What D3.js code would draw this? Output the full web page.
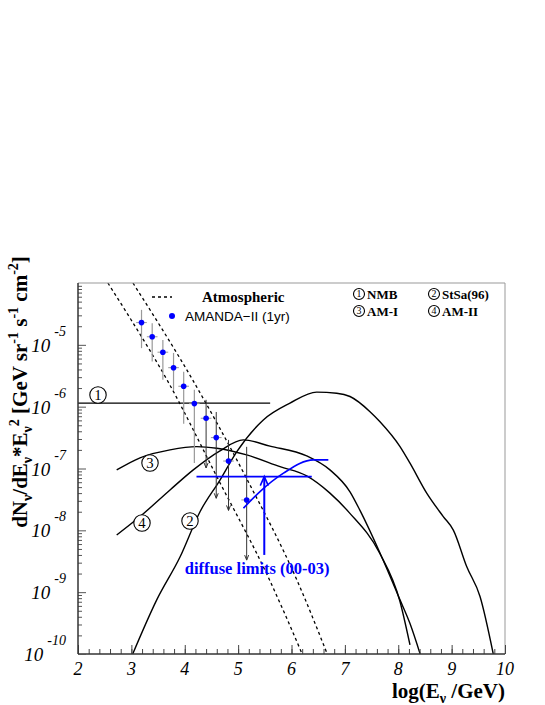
<!DOCTYPE html>
<html><head><meta charset="utf-8">
<script src="https://cdn.jsdelivr.net/npm/d3@7"></script>
<style>body{margin:0;background:#fff}svg{display:block}</style>
</head><body>
<script>
// ---- data ----
const xTicks = [2,3,4,5,6,7,8,9,10];
const yExps = [-10,-9,-8,-7,-6,-5];
// Atmospheric band (dashed)
const atmLoE = [2.56,2.97,3.67,4.63,5.56,6.20];
const atmLoF = [1e-4,2.75e-5,2.69e-6,6.6e-8,1.78e-9,1e-10];
const atmHiE = [3.03,4.15,5.17,6.10,6.67];
const atmHiF = [1e-4,2.69e-6,6.6e-8,1.58e-9,1e-10];
// AMANDA-II (1yr)
const amE = [3.19,3.39,3.59,3.79,3.98,4.18,4.40,4.59,4.82,5.16];
const amF = [2.29e-5,1.35e-5,7.6e-6,4.27e-6,2.14e-6,1.12e-6,6.5e-7,3.16e-7,1.32e-7,3.1e-8];
const amHi = [3.68e-5,2.24e-5,1.2e-5,7.4e-6,3.66e-6,1.87e-6,1.29e-6,8.2e-7,2.9e-7,2.24e-7];
const amLo = [8.85e-6,5.37e-6,2.72e-6,1.87e-6,5.3e-7,1.23e-7,1.02e-7,3.3e-8,2.1e-8,3.3e-9];
const amLimit = [false,false,false,false,false,false,true,true,true,true];
// (1) NMB
const nmbE = [2,5.6];
const nmbF = [1.14e-6,1.14e-6];
// (2) StSa(96)
const stsaE = [3.025,3.475,3.911,4.286,4.66,4.973,5.472,5.972,6.472,6.847,7.096,7.471,7.658,8.033,8.22,8.533,8.844,9.032,9.282,9.532,9.78];
const stsaF = [1.0e-10,7.5e-10,3.7e-9,2.0e-8,6.5e-8,1.86e-7,6.1e-7,1.14e-6,1.72e-6,1.65e-6,1.46e-6,8.3e-7,5.7e-7,2.26e-7,1.22e-7,4.0e-8,1.67e-8,1.01e-8,2.6e-9,8.5e-10,1.0e-10];
// (3) AM-I
const am1E = [2.725,3.162,3.724,4.224,4.599,5.161,5.785,6.285,6.72,7.09,7.65,8.03,8.22];
const am1F = [9.48e-8,1.49e-7,2.0e-7,2.26e-7,2.13e-7,1.66e-7,1.07e-7,7.6e-8,4.0e-8,1.9e-8,4.3e-9,7.2e-10,1.4e-10];
// (4) AM-II
const am2E = [2.725,3.162,3.724,4.160,4.660,5.097,5.597,6.285,6.72,7.096,7.283,7.658,8.033,8.22,8.41];
const am2F = [8.4e-9,1.67e-8,4.5e-8,9.5e-8,1.93e-7,2.9e-7,2.3e-7,1.6e-7,9.5e-8,4.2e-8,2.1e-8,4.3e-9,7.5e-10,3.1e-10,1.0e-10];
// diffuse limits (00-03)
const limE = [4.22,6.38];
const limF = 7.4e-8;
const arrowE = 5.49;
const arrowF = [7.4e-8,4.0e-9];
const limCurveE = [5.10,5.41,5.85,6.41,6.69];
const limCurveF = [2.28e-8,4.23e-8,8.4e-8,1.38e-7,1.38e-7];

const W=545,H=705;
const L=78,R=505,T=283,B=654;
const serif='"Liberation Serif","Times New Roman",serif';
const sans='"Liberation Sans",Arial,sans-serif';
const blue='#0000ff';

const svg=d3.select('body').append('svg').attr('width',W).attr('height',H);
const x=d3.scaleLinear().domain([2,10]).range([L,R]);
const y=d3.scaleLog().domain([1e-10,1e-4]).range([B,T]);

svg.append('defs').append('clipPath').attr('id','clip').append('rect')
  .attr('x',L).attr('y',T).attr('width',R-L).attr('height',B-T);
const plot=svg.append('g').attr('clip-path','url(#clip)');

// frame
svg.append('line').attr('x1',L).attr('x2',R).attr('y1',T).attr('y2',T).attr('stroke','#999').attr('stroke-width',1);
svg.append('line').attr('x1',R).attr('x2',R).attr('y1',T).attr('y2',B).attr('stroke','#999').attr('stroke-width',1);

// axes via d3 axis
const xMinor=d3.range(2,10.001,0.2);
svg.append('g').attr('transform',`translate(0,${B})`)
  .call(d3.axisTop(x).tickValues(xMinor).tickSize(5).tickFormat(''))
  .call(g=>{g.select('.domain').remove();g.selectAll('line').attr('stroke','#444');});
svg.append('g').attr('transform',`translate(0,${B})`)
  .call(d3.axisTop(x).tickValues(xTicks).tickSize(9).tickFormat(''))
  .call(g=>{g.select('.domain').remove();g.selectAll('line').attr('stroke','#444');});
svg.append('line').attr('x1',L).attr('x2',R).attr('y1',B).attr('y2',B).attr('stroke','#333').attr('stroke-width',1.5);
// x labels
svg.append('g').selectAll('text').data(xTicks).join('text')
  .attr('x',d=>x(d)).attr('y',B+21).attr('text-anchor','middle')
  .attr('font-family',serif).attr('font-style','italic').attr('font-size',18).text(d=>d);

// y ticks
const yMinor=[];
for(let e=-10;e<-4;e++) for(let m=2;m<=9;m++) yMinor.push(m*Math.pow(10,e));
svg.append('g').attr('transform',`translate(${L},0)`)
  .call(d3.axisRight(y).tickValues(yMinor).tickSize(4).tickFormat(''))
  .call(g=>{g.select('.domain').remove();g.selectAll('line').attr('stroke','#555');});
svg.append('g').attr('transform',`translate(${L},0)`)
  .call(d3.axisRight(y).tickValues(yExps.map(e=>Math.pow(10,e))).tickSize(8).tickFormat(''))
  .call(g=>{g.select('.domain').remove();g.selectAll('line').attr('stroke','#555');});
svg.append('line').attr('x1',L).attr('x2',L).attr('y1',T).attr('y2',B).attr('stroke','#333').attr('stroke-width',1.5);
// y labels
const yl=svg.append('g');
yExps.forEach(e=>{
  const t=yl.append('text').attr('y',y(Math.pow(10,e))+7).attr('x',66).attr('text-anchor','end')
   .attr('font-family',serif).attr('font-style','italic').attr('font-size',19);
  t.append('tspan').text('10');
  t.append('tspan').attr('dy',-16).attr('font-size',14).attr('dx',4).text(String(e));
});

// axis titles
const xt=svg.append('text').attr('x',R).attr('y',698).attr('text-anchor','end')
  .attr('font-family',serif).attr('font-weight','bold').attr('font-size',21);
xt.append('tspan').text('log(E');
xt.append('tspan').attr('font-size',14).attr('dy',5).text('ν');
xt.append('tspan').attr('dy',-5).text(' /GeV)');

const yt=svg.append('text').attr('transform','translate(27,392) rotate(-90)').attr('text-anchor','middle')
  .attr('font-family',serif).attr('font-weight','bold').attr('font-size',21);
const parts=[['dN',0,21],['ν',5,14],['/dE',-5,21],['ν',5,14],['*E',-5,21],['ν',5,14],['2',-13,14],[' [GeV sr',8,21],['-1',-9,14],[' s',9,21],['-1',-9,14],[' cm',9,21],['-2',-9,14],[']',9,21]];
parts.forEach(p=>yt.append('tspan').attr('dy',p[1]).attr('font-size',p[2]).text(p[0]));

const line=d3.line().x(d=>x(d[0])).y(d=>y(d[1])).curve(d3.curveMonotoneX);
const zip=(a,b)=>a.map((v,i)=>[v,b[i]]);

// atmospheric dashed
[[atmLoE,atmLoF],[atmHiE,atmHiF]].forEach(([e,f])=>{
  plot.append('path').attr('d',line(zip(e,f))).attr('fill','none').attr('stroke','#000')
   .attr('stroke-width',1.3).attr('stroke-dasharray','3,3');
});
// model curves
[[nmbE,nmbF],[stsaE,stsaF],[am1E,am1F],[am2E,am2F]].forEach(([e,f])=>{
  plot.append('path').attr('d',line(zip(e,f))).attr('fill','none').attr('stroke','#000').attr('stroke-width',1.4);
});

// AMANDA points
amE.forEach((e,i)=>{
  const cx=x(e),cy=y(amF[i]);
  plot.append('line').attr('x1',x(e-0.1)).attr('x2',x(e+0.1)).attr('y1',cy).attr('y2',cy).attr('stroke','#999').attr('stroke-width',1);
  if(!amLimit[i]){
    plot.append('line').attr('x1',cx).attr('x2',cx).attr('y1',y(amHi[i])).attr('y2',y(amLo[i])).attr('stroke','#999').attr('stroke-width',1.2);
  } else {
    plot.append('line').attr('x1',cx).attr('x2',cx).attr('y1',y(amHi[i])).attr('y2',y(amLo[i])).attr('stroke','#333').attr('stroke-width',1);
    const ay=y(amLo[i]);
    plot.append('path').attr('d',`M${cx-2},${ay-5}L${cx},${ay}L${cx+2},${ay-5}`).attr('fill','none').attr('stroke','#333').attr('stroke-width',1);
  }
  plot.append('circle').attr('cx',cx).attr('cy',cy).attr('r',2.8).attr('fill',blue);
});

// diffuse limits
plot.append('line').attr('x1',x(limE[0])).attr('x2',x(limE[1])).attr('y1',y(limF)).attr('y2',y(limF)).attr('stroke',blue).attr('stroke-width',1.6);
const ax=x(arrowE);
plot.append('line').attr('x1',ax).attr('x2',ax).attr('y1',y(arrowF[0])).attr('y2',y(arrowF[1])).attr('stroke',blue).attr('stroke-width',2);
plot.append('path').attr('d',`M${ax-4},${y(arrowF[0])+9}L${ax},${y(arrowF[0])}L${ax+4},${y(arrowF[0])+9}`).attr('fill','none').attr('stroke',blue).attr('stroke-width',1.6);
plot.append('path').attr('d',line(zip(limCurveE,limCurveF))).attr('fill','none').attr('stroke',blue).attr('stroke-width',1.6);
svg.append('text').attr('x',x(4.0)).attr('y',574).attr('font-family',serif).attr('font-weight','bold')
  .attr('font-size',16.5).attr('fill',blue).text('diffuse limits (00-03)');

// circled labels
function circ(cx,cy,n,r){
  const g=svg.append('g');
  g.append('circle').attr('cx',cx).attr('cy',cy).attr('r',r).attr('fill','#fff').attr('stroke','#000').attr('stroke-width',1.1);
  g.append('text').attr('x',cx).attr('y',cy+r*0.62).attr('text-anchor','middle').attr('font-family',serif)
   .attr('font-size',r*1.8).text(n);
}
circ(98,395,'1',8.2);
circ(150,463,'3',8.2);
circ(142,523,'4',8.2);
circ(190,521,'2',8.2);

// legend
svg.append('line').attr('x1',152).attr('x2',172).attr('y1',297).attr('y2',297).attr('stroke','#000').attr('stroke-width',1.3).attr('stroke-dasharray','3,3');
svg.append('text').attr('x',202).attr('y',302).attr('font-family',serif).attr('font-weight','bold').attr('font-size',15).text('Atmospheric');
svg.append('circle').attr('cx',172).attr('cy',316).attr('r',3).attr('fill',blue);
svg.append('text').attr('x',185).attr('y',321).attr('font-family',sans).attr('font-size',13.5).text('AMANDA\u2212II (1yr)');

const leg=[[359,294,'1','NMB'],[434,294,'2','StSa(96)'],[359,311,'3','AM-I'],[434,311,'4','AM-II']];
leg.forEach(d=>{
  circ(d[0],d[1],d[2],5.5);
  svg.append('text').attr('x',d[0]+8).attr('y',d[1]+4.5).attr('font-family',serif).attr('font-weight','bold').attr('font-size',13).text(d[3]);
});
</script>
</body></html>
